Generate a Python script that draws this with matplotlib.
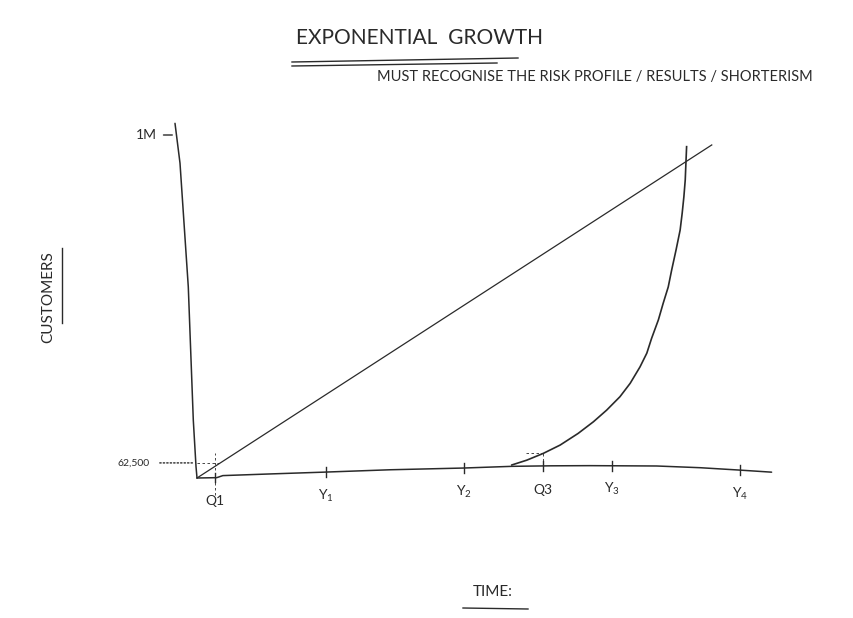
import matplotlib
matplotlib.use("Agg")
import matplotlib.pyplot as plt
from matplotlib.lines import Line2D
import numpy as np

# hand-drawn sketch: time in quarters from the origin, customers in people (not to scale)
tick_quarters = [0.53, 3.79, 7.85, 10.18, 12.2, 15.97]
tick_labels = ["Q1", r"$\mathregular{Y_1}$", r"$\mathregular{Y_2}$", "Q3",
               r"$\mathregular{Y_3}$", r"$\mathregular{Y_4}$"]

y_tick_values = [44_000, 1_000_000]
y_tick_labels = ["62,500", "1M"]

linear_quarters = [0.0, 15.14]
linear_customers = [0, 971_000]

exp_quarters = [9.26, 9.70, 10.19, 10.68, 11.21, 11.66, 12.05, 12.44, 12.74, 13.03, 13.23, 13.37,
                13.57, 13.71, 13.86, 13.96, 14.09, 14.21, 14.27, 14.32, 14.36, 14.38, 14.40]
exp_customers = [38_000, 52_000, 72_000, 96_000, 130_000, 164_000, 198_000, 237_000, 276_000,
                 324_000, 364_000, 407_000, 461_000, 509_000, 557_000, 606_000, 665_000,
                 723_000, 772_000, 820_000, 869_000, 918_000, 966_000]

baseline_quarters = [0.0, 0.58, 0.76, 2.2, 3.71, 5.68, 7.82, 9.26, 10.4, 11.56, 13.52, 14.8, 15.97, 16.90]
baseline_customers = [0, 1_000, 7_000, 12_000, 17_000, 24_000, 29_000, 34_000, 35_500, 36_000,
                      35_000, 30_000, 23_000, 17_000]

axis_quarters = [0.0, -0.029, -0.109, -0.256, -0.5, -0.647]
axis_customers = [0, 33_000, 169_000, 557_000, 918_000, 1_034_000]

title = "EXPONENTIAL  GROWTH"
subtitle = "MUST RECOGNISE THE RISK PROFILE / RESULTS / SHORTERISM"
xlabel = "TIME:"
ylabel = "CUSTOMERS"

INK = "#2a2a2a"
FONT = ["Lato", "DejaVu Sans"]
W, H = 854, 618

plt.rcParams["font.family"] = FONT

fig = plt.figure(figsize=(W / 100, H / 100), dpi=100)
ax = fig.add_axes([0, 0, 1, 1])
# origin of the sketch sits at pixel (197, 478); 34 px per quarter, 343 px per million
ax.set_xlim(-197 / 34, (W - 197) / 34)
ax.set_ylim((478 - H) / 343 * 1e6, 478 / 343 * 1e6)
ax.axis("off")

line_kw = dict(color=INK, lw=1.1, solid_capstyle="round", solid_joinstyle="round")
ax.plot(axis_quarters, axis_customers, **line_kw)
ax.plot(baseline_quarters, baseline_customers, **line_kw)
ax.plot(linear_quarters, linear_customers, color=INK, lw=0.9)
ax.plot(exp_quarters, exp_customers, color=INK, lw=1.2, solid_joinstyle="round")

# x ticks sit on the wobbly baseline
for q, lab in zip(tick_quarters, tick_labels):
    base = np.interp(q, baseline_quarters, baseline_customers)
    ax.plot([q, q], [base - 14_000, base + 14_000], color=INK, lw=1.0)
    ax.annotate(lab, (q, base), xytext=(0, -17), textcoords="offset points",
                ha="center", va="center", fontsize=10, color=INK)

# Q1 guide: dashed up from the axis, 62,500 dotted across
q1 = tick_quarters[0]
low = y_tick_values[0]
ax.plot([q1, q1], [np.interp(q1, baseline_quarters, baseline_customers) - 50_000, low + 30_000],
        color=INK, lw=0.6, ls=(0, (3, 3)))
ax.plot([0, q1 + 0.15], [low, low], color=INK, lw=0.6, ls=(0, (3, 3)))
ax.annotate("", (0, low), xytext=(-40, 0), textcoords="offset pixels",
            arrowprops=dict(arrowstyle="-", color=INK, lw=1.0, ls=(0, (1, 1.5))))
ax.annotate(y_tick_labels[0], (0, low), xytext=(-47, 0), textcoords="offset pixels",
            ha="right", va="center", fontsize=7.5, color=INK)

# 1M mark on the slanted y axis
top = y_tick_values[1]
ax_x = np.interp(top, axis_customers, axis_quarters)
ax.annotate("", (ax_x, top), xytext=(-13, 0), textcoords="offset pixels",
            arrowprops=dict(arrowstyle="-", color=INK, lw=1.0, shrinkB=3, shrinkA=0))
ax.annotate(y_tick_labels[1], (ax_x, top), xytext=(-20, 0), textcoords="offset pixels",
            ha="right", va="center", fontsize=10, color=INK)

# Q3 guide where the curve lifts off
q3 = tick_quarters[3]
q3_y = np.interp(q3, exp_quarters, exp_customers)
ax.plot([q3 - 0.5, q3], [q3_y, q3_y], color=INK, lw=0.6, ls=(0, (3, 3)))
ax.plot([q3, q3], [np.interp(q3, baseline_quarters, baseline_customers), q3_y],
        color=INK, lw=0.6, ls=(0, (3, 3)))

# title block
fig.text(420 / W, 1 - 38 / H, title, ha="center", va="center", fontsize=15, color=INK)
fig.add_artist(Line2D([292 / W, 518 / W], [1 - 62 / H, 1 - 58 / H], color=INK, lw=1.0))
fig.add_artist(Line2D([292 / W, 497 / W], [1 - 66 / H, 1 - 63 / H], color=INK, lw=1.0))
fig.text(595 / W, 1 - 77 / H, subtitle, ha="center", va="center", fontsize=10.5, color=INK)

# axis titles with their underlines
fig.text(48 / W, 1 - 297 / H, ylabel, ha="center", va="center", rotation=90,
         fontsize=11, color=INK)
fig.add_artist(Line2D([62 / W, 62 / W], [1 - 248 / H, 1 - 323 / H], color=INK, lw=1.0))
fig.text(493 / W, 1 - 592 / H, xlabel, ha="center", va="center", fontsize=11, color=INK)
fig.add_artist(Line2D([463 / W, 528 / W], [1 - 608 / H, 1 - 609 / H], color=INK, lw=1.0))

fig.savefig("out.png", dpi=100, facecolor="white")
